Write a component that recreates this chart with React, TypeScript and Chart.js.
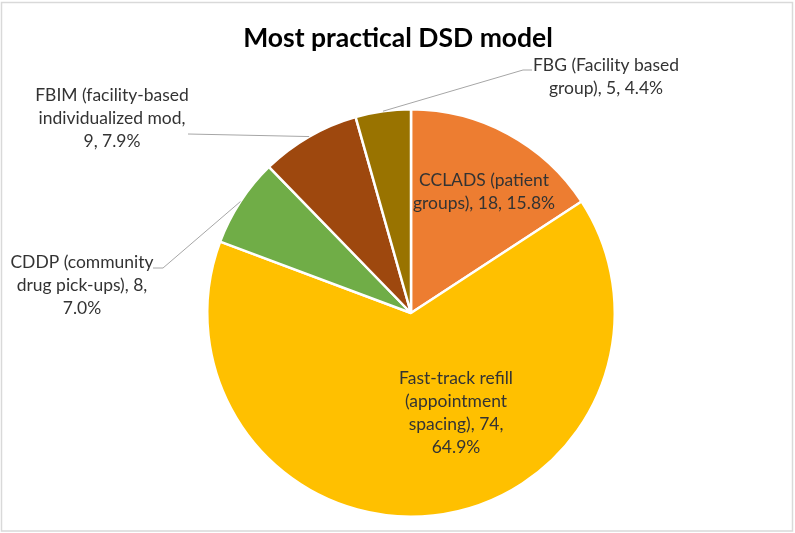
import React, { useEffect, useRef } from "react";
import { Chart, registerables } from "chart.js";

Chart.register(...registerables);

const categories = [
  "CCLADS (patient groups)",
  "Fast-track refill (appointment spacing)",
  "CDDP (community drug pick-ups)",
  "FBIM (facility-based individualized mod",
  "FBG (Facility based group)",
];
const values = [18, 74, 8, 9, 5];
const sliceColors = ["#ED7D31", "#FFC000", "#70AD47", "#9E480E", "#997300"];
const titleText = "Most practical DSD model";

// word counts per wrapped line of each data label
const lineBreaks = [[2, 3], [2, 1, 2, 1], [2, 3, 1], [2, 2, 2], [3, 3]];
// label placement relative to pie centre (dx, dy of first line), and leader-line elbows
const labelLayout = [
  { dx: 73, dy: -133, leader: null as null | number[][] },
  { dx: 45, dy: 65, leader: null },
  { dx: -329, dy: -51, leader: [[-248, -45], [-258, -45]] },
  { dx: -299, dy: -218, leader: [[-223, -179]] },
  { dx: 195, dy: -248, leader: [[112, -243], [121, -243]] },
];

const FONT = "Lato, 'Open Sans', sans-serif";

function fitSize(ctx: CanvasRenderingContext2D, text: string, weight: string, target: number) {
  ctx.font = `${weight} 100px ${FONT}`;
  const w = ctx.measureText(text).width;
  return (100 * target) / w;
}

const labelPlugin = {
  id: "customLabels",
  afterDraw(chart: any) {
    const ctx: CanvasRenderingContext2D = chart.ctx;
    const meta = chart.getDatasetMeta(0);
    const total = values.reduce((a, b) => a + b, 0);
    ctx.save();
    // frame
    ctx.strokeStyle = "#d9d9d9";
    ctx.lineWidth = 1.5;
    ctx.strokeRect(1.5, 2.5, 791, 528.5);

    // title
    const tSize = fitSize(ctx, titleText, "bold", 310);
    ctx.font = `bold ${tSize}px ${FONT}`;
    ctx.fillStyle = "#000000";
    ctx.textAlign = "center";
    ctx.textBaseline = "middle";
    ctx.fillText(titleText, 398, 38);

    const size = fitSize(ctx, "Fast-track refill", "normal", 114);
    const lineH = 23.2;
    meta.data.forEach((arc: any, i: number) => {
      const p = arc.getProps(["x", "y", "startAngle", "endAngle", "outerRadius"], true);
      const cx = p.x;
      const cy = p.y;
      const lay = labelLayout[i];
      if (lay.leader) {
        const mid = (p.startAngle + p.endAngle) / 2;
        ctx.beginPath();
        ctx.moveTo(cx + Math.cos(mid) * p.outerRadius, cy + Math.sin(mid) * p.outerRadius);
        lay.leader.forEach((pt) => ctx.lineTo(cx + pt[0], cy + pt[1]));
        ctx.strokeStyle = "#a6a6a6";
        ctx.lineWidth = 1;
        ctx.stroke();
      }
      const pct = ((values[i] / total) * 100).toFixed(1);
      const words = `${categories[i]}, ${values[i]}, ${pct}%`.split(" ");
      const lines: string[] = [];
      let k = 0;
      lineBreaks[i].forEach((n) => {
        lines.push(words.slice(k, k + n).join(" "));
        k += n;
      });
      ctx.font = `${size}px ${FONT}`;
      ctx.fillStyle = "#333333";
      ctx.textAlign = "center";
      ctx.textBaseline = "middle";
      lines.forEach((ln, j) => {
        ctx.fillText(ln, cx + lay.dx, cy + lay.dy + j * lineH);
      });
    });
    ctx.restore();
  },
};

export default function App() {
  const ref = useRef<HTMLCanvasElement>(null);
  useEffect(() => {
    document.body.style.margin = "0";
    const chart = new Chart(ref.current!, {
      type: "pie",
      data: {
        labels: categories,
        datasets: [
          {
            data: values,
            backgroundColor: sliceColors,
            borderColor: "#ffffff",
            borderWidth: 2.5,
          },
        ],
      },
      options: {
        responsive: false,
        animation: false,
        devicePixelRatio: 1,
        layout: { padding: { left: 206, right: 179, top: 108, bottom: 15 } },
        plugins: {
          legend: { display: false },
          title: { display: false },
          tooltip: { enabled: false },
        },
      },
      plugins: [labelPlugin],
    });
    let alive = true;
    (document as any).fonts?.ready?.then(() => {
      if (alive) chart.draw();
    });
    return () => {
      alive = false;
      chart.destroy();
    };
  }, []);
  return (
    <div style={{ position: "fixed", left: 0, top: 0, width: 795, height: 533, background: "#fff" }}>
      <canvas ref={ref} width={795} height={533} />
    </div>
  );
}
